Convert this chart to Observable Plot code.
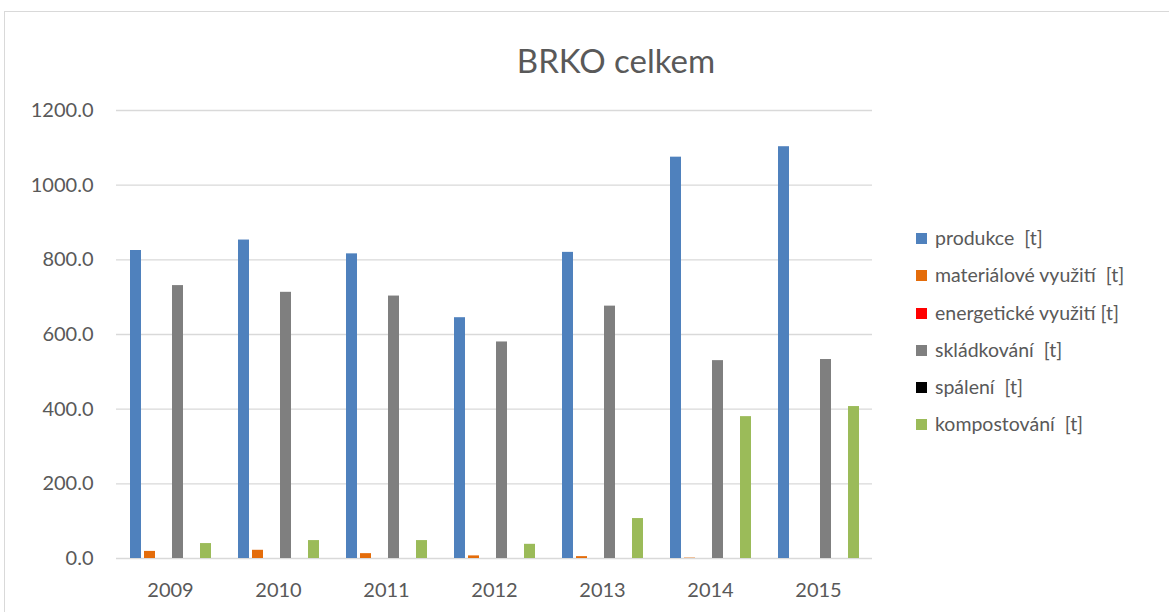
<!DOCTYPE html>
<html>
<head>
<meta charset="utf-8">
<script src="https://cdn.jsdelivr.net/npm/d3@7"></script>
<script src="https://cdn.jsdelivr.net/npm/@observablehq/plot@0.6"></script>
<style>
  html, body { margin: 0; padding: 0; background: #fff; }
  body { width: 1169px; height: 612px; position: relative; overflow: hidden; font-family: Lato, "Open Sans", sans-serif; }
  #frame { position: absolute; left: 4px; top: 11px; width: 1180px; height: 620px; border: 1px solid #d9d9d9; box-sizing: border-box; }
  #title { position: absolute; left: 416px; width: 400px; top: 40px; text-align: center; font-size: 33px; color: #595959; }
  .layer { position: absolute; left: 0; top: 0; }
  #legend { position: absolute; left: 916px; top: 226px; font-size: 19.5px; color: #595959; }
  .item { height: 37.3px; display: flex; align-items: flex-start; white-space: pre; line-height: 24px; }
  .sw { width: 11px; height: 11px; margin-right: 8px; margin-top: 7px; flex: none; }
</style>
</head>
<body>
<div id="frame"></div>
<div id="title">BRKO celkem</div>
<div id="grid" class="layer"></div>
<div id="chart" class="layer"></div>
<div id="legend"></div>
<script>
const years = ["2009", "2010", "2011", "2012", "2013", "2014", "2015"];
const seriesNames = ["produkce  [t]", "materiálové využití  [t]", "energetické využití [t]", "skládkování  [t]", "spálení  [t]", "kompostování  [t]"];
const colors = ["#4f81bd", "#e46c0a", "#ff0000", "#7f7f7f", "#000000", "#9bbb59"];
const produkce     = [825, 853, 816, 645, 820, 1075, 1103];
const materialove  = [19, 22, 13, 7, 5, 1, 0];
const energeticke  = [0, 0, 0, 0, 0, 0, 0];
const skladkovani  = [731, 713, 703, 580, 676, 530, 533];
const spaleni      = [0, 0, 0, 0, 0, 0, 0];
const kompostovani = [40, 48, 48, 38, 107, 380, 407];
const yTicks = [0, 200, 400, 600, 800, 1000, 1200];

const seriesValues = [produkce, materialove, energeticke, skladkovani, spaleni, kompostovani];
const data = [];
years.forEach((yr, i) => {
  seriesNames.forEach((s, j) => data.push({year: yr, series: s, value: seriesValues[j][i]}));
});

const dims = {width: 900, height: 612, marginTop: 110, marginBottom: 54, marginLeft: 116, marginRight: 28};
const style = {fontFamily: "Lato, 'Open Sans', sans-serif", fontSize: "20px", color: "#595959", background: "transparent", overflow: "visible"};

// Background layer: y axis and gridlines across the whole plot area
const grid = Plot.plot({
  ...dims,
  style,
  y: {domain: [0, 1200], ticks: yTicks, tickFormat: d => d.toFixed(1), tickSize: 0, tickPadding: 23, label: null},
  marks: [
    Plot.ruleY(yTicks, {stroke: "#d9d9d9", strokeWidth: 1.3})
  ]
});
document.getElementById("grid").appendChild(grid);

// Foreground layer: clustered bars faceted by year
const chart = Plot.plot({
  ...dims,
  style,
  y: {domain: [0, 1200], axis: null},
  fx: {domain: years, paddingInner: 0.2, paddingOuter: 0.1, tickSize: 0, tickPadding: 24, label: null, axis: "bottom"},
  x: {domain: seriesNames, axis: null, paddingInner: 0.24, paddingOuter: 0.12},
  color: {domain: seriesNames, range: colors},
  marks: [
    Plot.barY(data, {fx: "year", x: "series", y: "value", fill: "series"})
  ]
});
document.getElementById("chart").appendChild(chart);

const legend = document.getElementById("legend");
seriesNames.forEach((s, j) => {
  const it = document.createElement("div");
  it.className = "item";
  const sw = document.createElement("span");
  sw.className = "sw";
  sw.style.background = colors[j];
  const tx = document.createElement("span");
  tx.textContent = s;
  it.appendChild(sw);
  it.appendChild(tx);
  legend.appendChild(it);
});
</script>
</body>
</html>
